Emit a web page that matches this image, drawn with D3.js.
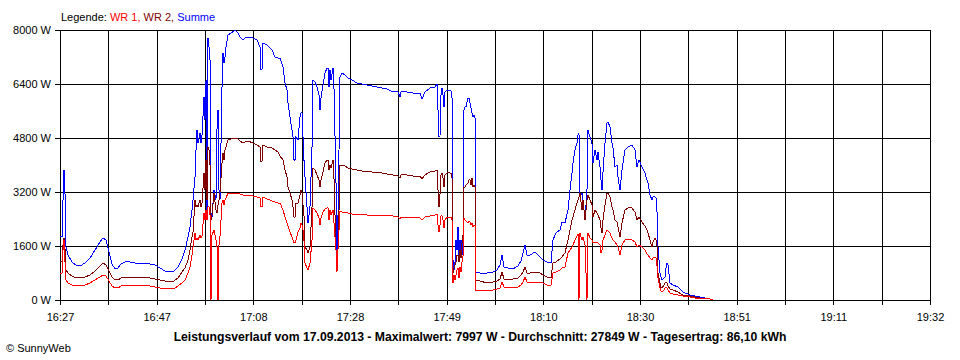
<!DOCTYPE html>
<html><head><meta charset="utf-8">
<script src="https://cdn.jsdelivr.net/npm/d3@7"></script>
<style>
body{margin:0;background:#fff}
svg{display:block}
text{font-family:"Liberation Sans",Arial,sans-serif;fill:#000}
</style>
</head><body>
<svg id="c" width="960" height="360"></svg>
<script>
// elapsed minutes since 16:27
const minutes = [
0,0.43,0.64,0.85,1.06,1.28,1.70,2.55,3.40,4.25,
5.32,6.38,7.44,8.51,9.14,9.78,10.42,11.06,11.70,12.33,
12.97,13.82,14.88,15.95,17.01,18.07,19.14,20.20,21.26,22.33,
23.39,24.24,25.09,25.94,26.58,27.22,27.64,28.07,28.28,28.71,
28.92,29.13,29.34,29.77,29.98,30.20,30.62,30.83,31.05,31.26,
31.47,31.68,31.90,32.11,32.32,32.75,33.17,33.38,33.60,33.81,
34.02,34.45,34.66,34.87,35.09,35.30,35.72,36.36,37.21,37.85,
38.28,38.91,39.34,39.98,41.04,41.89,42.53,42.74,42.95,43.17,
44.02,44.65,45.08,45.72,46.36,46.78,47.42,47.84,48.27,48.48,
48.91,49.33,49.55,49.76,49.97,50.18,50.61,51.03,51.25,51.46,
51.67,51.88,52.10,52.52,52.74,53.16,53.59,53.80,54.22,54.65,
55.07,55.29,55.50,55.92,56.35,56.78,56.99,57.20,57.41,57.63,
58.05,58.26,58.69,58.90,59.11,59.33,59.54,59.96,60.60,61.24,
62.09,63.15,64.22,65.28,66.34,67.41,68.47,69.53,70.81,71.87,
72.30,72.51,73.79,75.06,76.55,76.98,77.61,78.68,79.74,80.17,
80.38,80.59,80.80,81.01,81.23,81.44,81.65,81.86,82.29,82.92,
83.35,83.56,83.78,83.99,84.20,84.42,84.63,84.84,85.06,85.27,
85.48,85.69,85.91,86.12,86.33,86.76,86.97,87.18,87.40,87.61,
87.82,88.03,88.25,88.46,89.31,90.80,92.07,92.92,93.56,93.99,
94.41,95.26,96.32,97.39,98.03,98.45,98.88,99.30,99.94,101.00,
102.07,102.70,103.56,104.40,104.83,105.47,106.32,106.75,107.38,108.02,
108.45,108.87,109.08,109.51,109.93,110.15,110.36,110.57,111.00,111.21,
111.64,112.06,112.27,112.70,113.12,113.34,113.76,114.19,114.40,114.83,
115.04,115.25,115.46,115.89,116.31,116.53,116.95,117.37,117.59,118.02,
118.44,118.65,119.08,119.50,120.14,120.78,121.20,121.63,122.27,122.69,
123.12,123.76,124.39,124.82,125.03,125.46,125.88,126.09,126.52,126.73,
126.94,127.16,127.58,127.80,128.01,128.43,128.65,128.86,129.07,129.28,
129.71,130.35,131.41,132.47,133.96,135.03,136.09,137.15,138.22,138.85
];

const wr1 = [
800,800,1481,1778,1126,593,504,444,415,415,
444,504,593,681,741,711,563,415,356,356,
415,444,444,415,415,415,415,385,356,326,
326,326,415,504,593,800,978,1333,1570,1985,
1778,1837,1778,1926,1837,1896,2578,2370,2667,2370,
2756,2756,2519,0,1926,2074,1778,1630,0,1630,
1867,2874,2963,2815,2963,3022,3170,3170,3170,3170,
3141,3111,3111,3111,3081,3052,3022,2756,2756,3052,
2993,2963,2933,2904,2874,2874,2667,2459,2281,2193,
2015,1867,1778,1689,1689,1778,2015,2133,2281,2222,
2074,1778,1096,948,889,1096,1778,2726,2667,2578,
2430,2222,2430,2607,2696,2726,2726,2370,2667,2519,
2667,2281,1481,830,1481,2074,2637,2607,2607,2578,
2548,2519,2519,2519,2489,2489,2489,2489,2489,2459,
2400,2459,2459,2459,2430,2370,2459,2489,2519,2548,
2222,2015,2222,2489,2489,2370,2133,2370,2459,2459,
2459,504,741,593,741,889,948,652,978,830,
1126,1274,2430,2370,2341,2281,2341,2311,2222,2281,
2163,2222,2222,296,296,296,296,326,356,533,
385,385,385,385,444,533,681,533,504,533,
533,504,444,444,800,830,889,948,978,1393,
1481,1570,1630,1778,1896,1956,0,1985,1778,1867,
1630,0,1985,1837,1778,1689,1719,1689,1689,1630,
1393,1481,1778,1926,2074,2044,1985,1837,1778,1719,
1630,1570,1333,1630,1778,1807,1807,1778,1719,1570,
1630,1570,1481,1363,1333,1244,1185,1244,1274,1244,
1037,652,356,267,237,296,356,385,356,296,
207,178,148,119,89,59,59,30,30,0
];

const wr2 = [
1126,1126,1630,1837,1541,889,800,711,652,652,
681,741,859,1007,1096,1037,859,681,593,593,
652,681,681,681,681,681,652,622,593,563,
533,563,652,830,948,1185,1481,1867,2015,2963,
2756,2815,2756,2963,2756,2874,3763,3259,4148,2963,
4533,4444,4000,2370,2519,3170,2667,2578,2815,2963,
3170,4059,4356,4148,4444,4533,4741,4770,4800,4770,
4711,4652,4681,4711,4652,4593,4533,4089,4089,4593,
4533,4533,4504,4444,4385,4267,4148,3852,3644,3348,
3170,2963,2756,2459,2459,2874,2874,3111,3259,3200,
2815,2519,1570,1481,1393,1570,2756,3911,3852,3704,
3556,3348,3556,3793,4059,4148,4148,3852,4000,3911,
4148,3644,1481,889,1481,2667,4000,4000,3970,3911,
3881,3852,3822,3793,3793,3763,3763,3733,3704,3674,
3615,3704,3704,3674,3674,3585,3704,3793,3822,3852,
3259,2756,3111,3704,3763,3615,3348,3704,3763,3763,
3733,800,948,1037,1126,1333,1333,1126,1481,1244,
1689,1867,3348,3348,3407,3467,3556,3556,3407,3615,
3348,3407,3348,593,563,504,533,563,622,830,
622,593,622,652,741,830,978,800,800,830,
800,741,681,652,1096,1126,1215,1274,1393,1778,
2074,2370,2459,2667,2874,2963,3052,3170,2667,2963,
2370,2963,3111,2963,2815,2459,2667,2578,2519,2370,
2133,1985,2370,2815,3170,3170,3052,2756,2667,2370,
2311,2163,1867,2281,2667,2726,2756,2726,2607,2370,
2459,2311,2193,2074,1985,1778,1570,1719,1837,1778,
1630,800,504,356,356,444,504,533,504,415,
326,296,237,148,119,89,59,59,30,0
];

const summe = [
1867,1867,2963,3852,3170,1570,1333,1126,1037,1007,
1096,1244,1481,1719,1837,1778,1422,1067,919,948,
1067,1126,1126,1096,1096,1096,1067,1037,948,859,
830,859,978,1215,1481,1867,2163,2667,2963,3644,
4444,5037,4652,4948,4652,4889,6015,5333,6519,2370,
7763,7496,7111,2578,2459,3259,2963,5037,5630,3259,
2963,6311,7319,7022,7200,7496,7852,7911,7997,7911,
7793,7704,7763,7793,7763,7704,7496,6815,6815,7615,
7556,7467,7407,7200,7170,7170,6904,6430,6222,5837,
5422,5037,4830,4148,4148,4830,4741,5422,5541,5541,
4830,4148,3644,2756,2281,2756,4533,6519,6459,6311,
6074,5630,5985,6370,6726,6874,6874,6311,6815,6519,
6874,6311,3467,1481,2459,4444,6607,6726,6667,6578,
6519,6430,6400,6370,6341,6311,6281,6252,6163,6163,
6015,6163,6163,6133,6133,5956,6163,6281,6311,6400,
5630,4830,4830,6074,6281,6074,5719,6163,6222,6222,
6163,1185,889,1096,1778,1481,2163,1185,1778,1333,
1778,1333,5630,5719,5719,5985,5985,5837,5689,5541,
5422,5481,5393,830,800,800,830,889,1037,1333,
978,948,919,1007,1156,1393,1630,1333,1333,1422,
1274,1185,1126,1096,1778,1985,2074,2311,2281,2667,
3259,3763,4059,4444,4652,4889,4948,3052,3170,2963,
2370,3259,5037,4830,4652,4059,4444,4148,4385,3941,
3556,3259,3763,4652,5244,5274,5126,4652,4504,3941,
4000,3644,3259,3852,4444,4533,4563,4593,4444,3941,
4148,3941,3763,3556,3467,3111,2963,3052,3052,3022,
2667,1570,800,681,593,652,681,948,1096,1037,
504,444,385,237,148,119,89,59,30,0
];

const tickLabels = ["16:27","16:47","17:08","17:28","17:49","18:10","18:30","18:51","19:11","19:32"];
const spanMinutes = 185; // 16:27 .. 19:32
const yTicks = [0,1600,3200,4800,6400,8000];
const seriesNames = ["WR 1","WR 2","Summe"];
const seriesColors = ["#ff0000","#800000","#0000ff"];
const titleText = "Leistungsverlauf vom 17.09.2013 - Maximalwert: 7997 W - Durchschnitt: 27849 W - Tagesertrag: 86,10 kWh";
const creditText = "\u00A9 SunnyWeb";

const svg = d3.select("#c");
const L = 60, R = 930, T = 30, B = 300;
const x = d3.scaleLinear().domain([0, spanMinutes]).range([L, R]);
const y = d3.scaleLinear().domain([0, 8000]).range([B, T]);
const gridVals = d3.range(19).map(i => i * spanMinutes / 18);

// grid
svg.append("g").attr("transform", `translate(0,${B})`)
  .call(d3.axisBottom(x).tickValues(gridVals).tickSize(-(B - T)).tickSizeOuter(0).tickFormat(""))
  .call(g => g.select(".domain").remove())
  .call(g => g.selectAll("line").attr("stroke", "#000").attr("shape-rendering", "crispEdges"));
svg.append("g").attr("transform", `translate(${L},0)`)
  .call(d3.axisLeft(y).tickValues(yTicks).tickSize(-(R - L)).tickSizeOuter(0).tickFormat(""))
  .call(g => g.select(".domain").remove())
  .call(g => g.selectAll("line").attr("stroke", "#000").attr("shape-rendering", "crispEdges"));

// axes
const xAxis = svg.append("g").attr("transform", `translate(0,${B})`)
  .call(d3.axisBottom(x).tickValues(gridVals).tickSize(5).tickSizeOuter(0).tickPadding(8)
    .tickFormat((d, i) => i % 2 === 0 ? tickLabels[i / 2] : ""));
xAxis.selectAll("line").attr("stroke", "#000").attr("shape-rendering", "crispEdges");
xAxis.select(".domain").attr("stroke", "#000").attr("shape-rendering", "crispEdges");
xAxis.selectAll("text").attr("font-size", 11).attr("font-family", "'Liberation Sans',Arial,sans-serif").attr("fill", "#000");

const yAxis = svg.append("g").attr("transform", `translate(${L},0)`)
  .call(d3.axisLeft(y).tickValues(yTicks).tickSize(5).tickSizeOuter(0).tickPadding(4)
    .tickFormat(d => d + " W"));
yAxis.selectAll("line").attr("stroke", "#000").attr("shape-rendering", "crispEdges");
yAxis.select(".domain").attr("stroke", "#000").attr("shape-rendering", "crispEdges");
yAxis.selectAll("text").attr("font-size", 11).attr("font-family", "'Liberation Sans',Arial,sans-serif").attr("fill", "#000");

// series
const seriesData = [wr1, wr2, summe];
const line = d3.line().x((d, i) => x(minutes[i])).y(d => y(d));
[2, 1, 0].forEach(k => {
  svg.append("path").datum(seriesData[k])
    .attr("d", line).attr("fill", "none")
    .attr("stroke", seriesColors[k]).attr("stroke-width", 1)
    .attr("shape-rendering", "crispEdges");
});

// legend
const leg = svg.append("text").attr("x", 61).attr("y", 21).attr("font-size", 11);
leg.append("tspan").text("Legende: ").attr("fill", "#000");
seriesNames.forEach((n, i) => {
  leg.append("tspan").attr("fill", seriesColors[i]).text(n + (i < seriesNames.length - 1 ? ", " : ""));
});

// title and credit
svg.append("text").attr("x", 480).attr("y", 341).attr("text-anchor", "middle")
  .attr("font-size", 12.2).attr("font-weight", "bold").text(titleText);
svg.append("text").attr("x", 6).attr("y", 352).attr("font-size", 11).text(creditText);
</script>
</body></html>
